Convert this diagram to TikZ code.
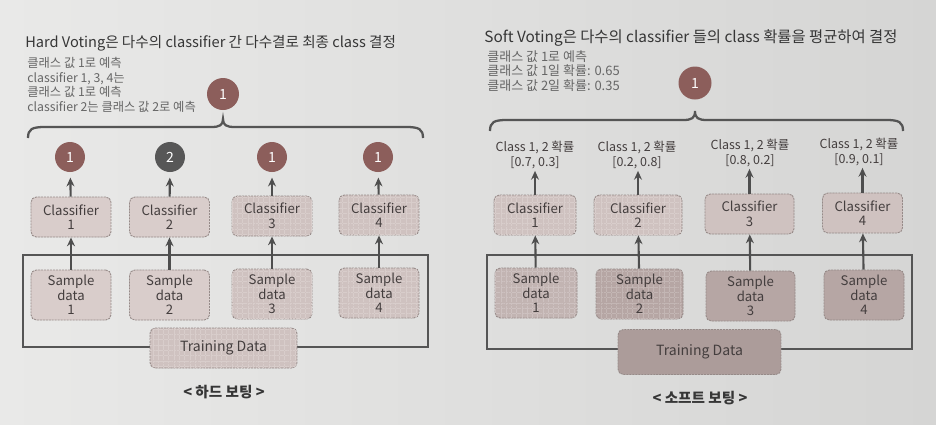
\documentclass[tikz,border=0pt]{standalone}
\usepackage{fontspec}
\setmainfont{Noto Sans CJK KR}
\usetikzlibrary{arrows.meta,patterns.meta}
\definecolor{bgL}{HTML}{E9E9E8}
\definecolor{bgR}{HTML}{D5D5D4}
\definecolor{titlecol}{HTML}{363636}
\definecolor{sidecol}{HTML}{666666}
\definecolor{boxtext}{HTML}{443E3E}
\definecolor{boxline}{HTML}{968A88}
\definecolor{boxA}{HTML}{D9CDCB}
\definecolor{boxB}{HTML}{CFC2C0}
\definecolor{boxC}{HTML}{C2B4B2}
\definecolor{boxD}{HTML}{B6A6A4}
\definecolor{boxE}{HTML}{AC9C9A}
\definecolor{vbrown}{HTML}{8C5E5B}
\definecolor{vgray}{HTML}{575757}
\definecolor{arrcol}{HTML}{4E4E4E}
\definecolor{framecol}{HTML}{555555}
\begin{document}
\begin{tikzpicture}[x=0.02cm,y=-0.02cm,
  box/.style={draw=boxline, line width=0.5pt, dash pattern=on 1.2pt off 0.5pt, rounded corners=3pt, fill=boxA,
    text=boxtext, font=\fontsize{7.5}{8.3}\selectfont, align=center, inner sep=0pt,
    minimum width=1.6cm, minimum height=0.8cm},
  sbox/.style={box, minimum height=1.0cm},
  grid/.style={postaction={pattern={Lines[angle=0,distance=3pt,line width=0.25pt]}, pattern color=white!18!#1},
               postaction={pattern={Lines[angle=90,distance=3pt,line width=0.25pt]}, pattern color=white!18!#1}},
  vote/.style={circle, fill=vbrown, text=white, minimum size=0.6cm, inner sep=0pt,
    font=\fontsize{8}{9}\selectfont},
  prob/.style={text=boxtext, font=\fontsize{7.1}{8.4}\selectfont, align=center, inner sep=1pt},
  arr/.style={-{Stealth[length=5pt,width=4.5pt]}, line width=1.2pt, draw=arrcol},
  frame/.style={draw=framecol, line width=1.1pt},
  bracestyle/.style={draw=framecol, line width=1.3pt},
  titlestyle/.style={text=titlecol, inner sep=0pt, anchor=base west},
  sidestyle/.style={text=sidecol, align=left, inner sep=0pt, anchor=north west},
  capstyle/.style={text=titlecol, font=\bfseries\fontsize{8.3}{9}\selectfont, inner sep=0pt}
]
\shade[left color=bgL,right color=bgR] (0,0) rectangle (936,424);
\useasboundingbox (0,0) rectangle (936,424);

% ================= LEFT: Hard voting =================
\node[titlestyle, font=\fontsize{8.3}{10}\selectfont] (htitle) at (25,47) {Hard Voting은 다수의 classifier 간 다수결로 최종 class 결정};
\node[sidestyle, font=\fontsize{7}{8.3}\selectfont] (hside) at (27,57) {클래스 값 1로 예측\\classifier 1, 3, 4는\\클래스 값 1로 예측\\classifier 2는 클래스 값 2로 예측};
\node[vote, minimum size=0.64cm] (htop) at (223,94) {1};
\draw[bracestyle] (28,138) .. controls (28,129) and (32,127) .. (45,127) -- (211,127)
  .. controls (220,127) and (223,125) .. (223,119)
  .. controls (223,125) and (226,127) .. (235,127) -- (406,127)
  .. controls (419,127) and (423,129) .. (423,138);

\draw[frame] (23,255) rectangle (428,347);

\node[vote] (hv1) at (70,157) {1};
\node[vote, fill=vgray] (hv2) at (170,157) {2};
\node[vote] (hv3) at (272,157) {1};
\node[vote] (hv4) at (378,157) {1};

\node[box] (hc1) at (71,217) {Classifier\\1};
\node[box] (hc2) at (169.5,217) {Classifier\\2};
\node[box, fill=boxB, grid=boxB] (hc3) at (272,216) {Classifier\\3};
\node[box, fill=boxB, grid=boxB] (hc4) at (379,215) {Classifier\\4};

\node[sbox] (hs1) at (71,295) {Sample\\data\\1};
\node[sbox] (hs2) at (169.5,295) {Sample\\data\\2};
\node[sbox, fill=boxB, grid=boxB] (hs3) at (272,294) {Sample\\data\\3};
\node[sbox, fill=boxB, grid=boxB] (hs4) at (379,293) {Sample\\data\\4};

\node[box, fill=boxB, grid=boxB, minimum width=2.94cm, font=\fontsize{8}{9}\selectfont] (htrain) at (223.5,348) {Training Data};

\foreach \i in {1,2,3,4}{
  \draw[arr] (hs\i) -- (hc\i);
  \draw[arr, shorten >=3pt] (hc\i) -- (hv\i);
}
\node[capstyle] (hcap) at (224,392) {< 하드 보팅 >};

% ================= RIGHT: Soft voting =================
\node[titlestyle, font=\fontsize{8.75}{10}\selectfont] (stitle) at (484,42) {Soft Voting은 다수의 classifier 들의 class 확률을 평균하여 결정};
\node[sidestyle, font=\fontsize{7.4}{8.3}\selectfont] (sside) at (487,50) {클래스 값 1로 예측\\클래스 값 1일 확률: 0.65\\클래스 값 2일 확률: 0.35};
\node[vote, minimum size=0.66cm] (stop) at (695,83) {1};
\draw[bracestyle] (490,131) .. controls (490,122) and (494,120) .. (507,120) -- (683,120)
  .. controls (692,120) and (695,118) .. (695,111)
  .. controls (695,118) and (698,120) .. (707,120) -- (886,120)
  .. controls (899,120) and (903,122) .. (903,131);

\draw[frame] (487,255) rectangle (912,349);

\node[box, fill=boxB, grid=boxB, minimum width=1.64cm] (sc1) at (535,215) {Classifier\\1};
\node[box, fill=boxB, grid=boxB, minimum width=1.76cm] (sc2) at (638,215) {Classifier\\2};
\node[box, fill=boxB, minimum width=1.78cm] (sc3) at (749.5,214) {Classifier\\3};
\node[box, fill=boxB, minimum width=1.6cm] (sc4) at (862.5,213) {Classifier\\4};

\node[prob] (sp1) at (535,155) {Class 1, 2 확률\\{[0.7, 0.3]}};
\node[prob] (sp2) at (637,155) {Class 1, 2 확률\\{[0.2, 0.8]}};
\node[prob] (sp3) at (750,153) {Class 1, 2 확률\\{[0.8, 0.2]}};
\node[prob] (sp4) at (859,152) {Class 1, 2 확률\\{[0.9, 0.1]}};

\node[sbox, fill=boxC, grid=boxC, minimum width=1.64cm] (ss1) at (536,293) {Sample\\data\\1};
\node[sbox, fill=boxD, grid=boxD, minimum width=1.74cm] (ss2) at (639.5,294) {Sample\\data\\2};
\node[sbox, fill=boxD, minimum width=1.78cm] (ss3) at (750.5,296) {Sample\\data\\3};
\node[sbox, fill=boxD, minimum width=1.6cm] (ss4) at (864,295) {Sample\\data\\4};

\node[box, fill=boxE, minimum width=3.26cm, minimum height=0.9cm, font=\fontsize{8}{9}\selectfont] (strain) at (699.5,352) {Training Data};

\foreach \i in {1,2,3,4}{
  \draw[arr] (ss\i) -- (sc\i);
  \draw[arr] (sc\i.north) -- (sc\i.north |- sp\i.south);
}
\node[capstyle] (scap) at (700,398) {< 소프트 보팅 >};
\end{tikzpicture}
\end{document}
